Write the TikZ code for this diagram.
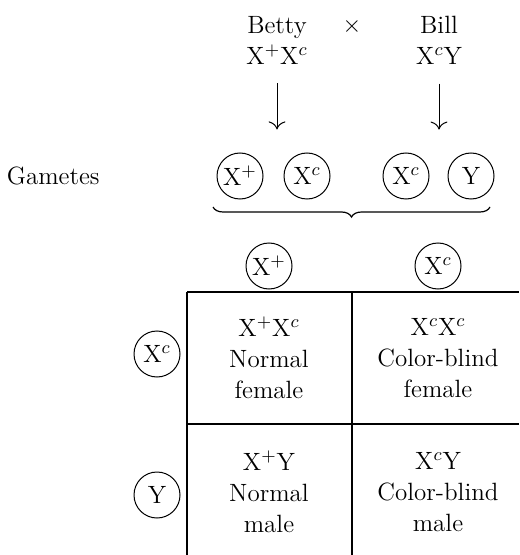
\documentclass[tikz,border=0pt]{standalone}
\usetikzlibrary{positioning,arrows.meta,decorations.pathreplacing}
\tikzset{
  txt/.style={font=\fontsize{12.5}{15.5}\selectfont,inner sep=0pt,align=center},
  gamete/.style={circle,draw,line width=0.5pt,minimum size=23pt,inner sep=0pt,
    font=\fontsize{12.5}{15}\selectfont},
  myarrow/.style={-{To[length=4pt]},line width=0.5pt},
  gridline/.style={line width=0.6pt},
  bracebar/.style={decorate,decoration={brace,amplitude=5pt,mirror},line width=0.6pt},
}
\begin{document}
\begin{tikzpicture}[x=0.5pt,y=-0.5pt]
  \useasboundingbox (0,0) rectangle (519,555);
  % parents
  \node[txt] (betty) at (277,40) {Betty\\X$^{+}$X$^{c}$};
  \node[txt] (bill) at (439,40) {Bill\\X$^{c}$Y};
  \node[txt,anchor=base] (cross) at (352,33) {$\times$};
  \coordinate[below=9.5pt of betty] (bettyA);
  \coordinate[below=23pt of bettyA] (bettyB);
  \coordinate[below=9.5pt of bill] (billA);
  \coordinate[below=23pt of billA] (billB);
  \draw[myarrow] (bettyA) -- (bettyB);
  \draw[myarrow] (billA) -- (billB);
  % gametes
  \node[txt,anchor=east] (gam) at (100,176) {Gametes};
  \node[gamete] (g1) at (240,176) {X$^{+}$};
  \node[gamete,right=10pt of g1] (g2) {X$^{c}$};
  \node[gamete] (g3) at (406,176) {X$^{c}$};
  \node[gamete,right=9pt of g3] (g4) {Y};
  \coordinate (brL) at (213,207);
  \coordinate (brR) at (490,207);
  \draw[bracebar] (brL) -- (brR);
  % punnett square
  \coordinate (tl) at (187,292);
  \coordinate (tm) at (352,292);
  \coordinate (tr) at (519,292);
  \coordinate (ml) at (187,424);
  \coordinate (mr) at (519,424);
  \coordinate (bl) at (187,555);
  \coordinate (bm) at (352,555);
  \draw[gridline] (tl) -- (tr);
  \draw[gridline] (ml) -- (mr);
  \draw[gridline] (tl) -- (bl);
  \draw[gridline] (tm) -- (bm);
  \node[gamete] (colA) at (269,266) {X$^{+}$};
  \node[gamete] (colB) at (438,266) {X$^{c}$};
  \node[gamete] (rowA) at (157,354) {X$^{c}$};
  \node[gamete] (rowB) at (157,495) {Y};
  \node[txt] (cAA) at (269,358) {X$^{+}$X$^{c}$\\Normal\\female};
  \node[txt] (cAB) at (438,358) {X$^{c}$X$^{c}$\\Color-blind\\female};
  \node[txt] (cBA) at (269,492) {X$^{+}$Y\\Normal\\male};
  \node[txt] (cBB) at (438,492) {X$^{c}$Y\\Color-blind\\male};
\end{tikzpicture}
\end{document}
